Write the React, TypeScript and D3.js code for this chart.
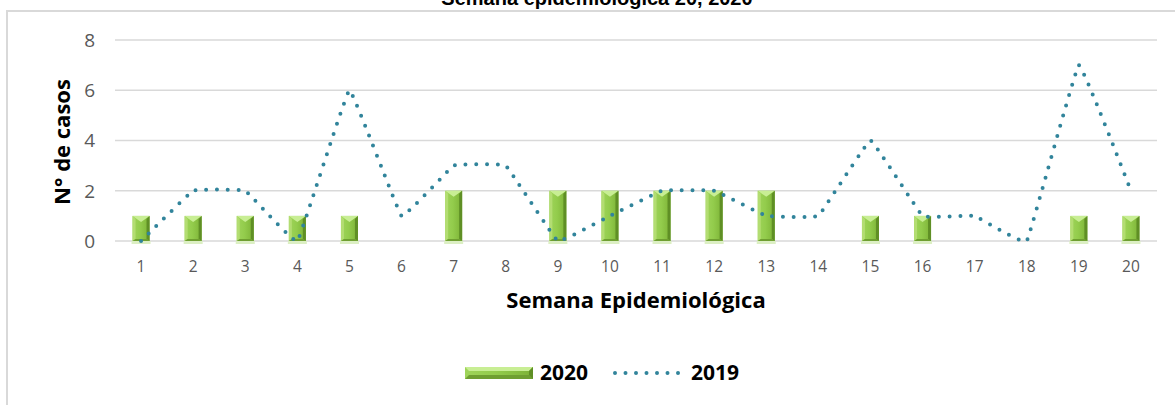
import React from "react";
import * as d3 from "d3";

const weeks = [1, 2, 3, 4, 5, 6, 7, 8, 9, 10, 11, 12, 13, 14, 15, 16, 17, 18, 19, 20];
const cases2020 = [1, 1, 1, 1, 1, 0, 2, 0, 2, 2, 2, 2, 2, 0, 1, 1, 0, 0, 1, 1];
const cases2019 = [0, 2, 2, 0, 6, 1, 3, 3, 0, 1, 2, 2, 1, 1, 4, 1, 1, 0, 7, 2];
const yTicks = [0, 2, 4, 6, 8];

const W = 1175;
const H = 405;
const FONT = "'Open Sans', 'Noto Sans', sans-serif";

export default function App() {
  const x = d3.scaleBand<number>().domain(weeks).range([115, 1157]).padding(0);
  const y = d3.scaleLinear().domain([0, 8]).range([241, 40]);
  const bw = 17;
  const line = d3
    .line<number>()
    .x((_, i) => (x(weeks[i]) as number) + x.bandwidth() / 2)
    .y((d) => y(d))
    .curve(d3.curveCardinal.tension(0.82));

  const bar = (cx: number, top: number, bottom: number, key: string | number) => {
    const h = bottom - top;
    const x0 = cx - bw / 2;
    if (h <= 0) return null;
    const tri = Math.min(6, h / 2);
    return (
      <g key={key}>
        <rect x={x0 - 1} y={bottom} width={bw + 2} height={3} fill="#dcefc4" />
        <rect x={x0} y={top} width={bw} height={h} fill="url(#barGrad)" />
        <polygon
          points={`${x0},${top} ${x0 + bw},${top} ${cx},${top + tri}`}
          fill="#c8ee94"
        />
        <polygon
          points={`${x0},${top} ${x0 + 3},${top + 3} ${x0 + 3},${bottom - 2} ${x0},${bottom}`}
          fill="#b3dd72"
        />
        <polygon
          points={`${x0 + bw},${top} ${x0 + bw - 3},${top + 3} ${x0 + bw - 3},${bottom - 2} ${x0 + bw},${bottom}`}
          fill="#5f8f25"
        />
        <polygon
          points={`${x0},${bottom} ${x0 + 3},${bottom - 2} ${x0 + bw - 3},${bottom - 2} ${x0 + bw},${bottom}`}
          fill="#6f9f31"
        />
      </g>
    );
  };

  return (
    <svg
      width={W}
      height={H}
      style={{ position: "absolute", left: 0, top: 0 }}
      xmlns="http://www.w3.org/2000/svg"
    >
      <defs>
        <linearGradient id="barGrad" x1="0" x2="1" y1="0" y2="0">
          <stop offset="0" stopColor="#9fd45a" />
          <stop offset="0.45" stopColor="#93cc4c" />
          <stop offset="1" stopColor="#7cb236" />
        </linearGradient>
      </defs>
      <rect x={0} y={0} width={W} height={H} fill="#ffffff" />
      <rect x={7} y={11} width={W + 20} height={H + 20} fill="none" stroke="#d9d9d9" strokeWidth={2} />

      <text
        x={597}
        y={5}
        textAnchor="middle"
        fontFamily="'Liberation Sans', Arial, sans-serif"
        fontWeight="bold"
        fontSize={20}
        fill="#000"
      >
        Semana epidemiológica 20, 2020
      </text>

      {yTicks.map((t) => (
        <g key={t}>
          <line x1={115} x2={1157} y1={y(t)} y2={y(t)} stroke="#d9d9d9" strokeWidth={1.5} />
          <text
            x={95}
            y={y(t)}
            dy="0.36em"
            textAnchor="end"
            fontFamily={FONT}
            fontSize={19}
            fill="#595959"
          >
            {t}
          </text>
        </g>
      ))}

      {weeks.map((w) => (
        <text
          key={w}
          x={(x(w) as number) + x.bandwidth() / 2}
          y={266}
          dy="0.36em"
          textAnchor="middle"
          fontFamily={FONT}
          fontSize={15.5}
          fill="#595959"
        >
          {w}
        </text>
      ))}

      {cases2020.map((v, i) =>
        bar((x(weeks[i]) as number) + x.bandwidth() / 2, y(v), y(0), i)
      )}

      <path
        d={line(cases2019) || ""}
        fill="none"
        stroke="#31849b"
        strokeWidth={4}
        strokeLinecap="round"
        strokeDasharray="0 10.7"
      />

      <text
        x={636}
        y={300}
        dy="0.36em"
        textAnchor="middle"
        fontFamily={FONT}
        fontWeight="bold"
        fontSize={22}
        fill="#000"
      >
        Semana Epidemiológica
      </text>

      <text
        transform={`translate(62,142) rotate(-90)`}
        textAnchor="middle"
        dy="0.36em"
        fontFamily={FONT}
        fontWeight="bold"
        fontSize={22}
        fill="#000"
      >
        N° de casos
      </text>

      {/* legend */}
      <g>
        <rect x={465} y={367} width={68} height={12} fill="url(#barGrad)" />
        <polygon points="465,367 533,367 529,371 469,371" fill="#c8ee94" />
        <polygon points="465,379 533,379 529,375 469,375" fill="#6f9f31" />
        <polygon points="533,367 533,379 529,375 529,371" fill="#5f8f25" />
        <text x={540} y={380} fontFamily={FONT} fontWeight="bold" fontSize={21} fill="#000">
          2020
        </text>
        <line
          x1={615}
          x2={679}
          y1={373}
          y2={373}
          stroke="#31849b"
          strokeWidth={4}
          strokeLinecap="round"
          strokeDasharray="0 10.5"
        />
        <text x={691} y={380} fontFamily={FONT} fontWeight="bold" fontSize={21} fill="#000">
          2019
        </text>
      </g>
    </svg>
  );
}
